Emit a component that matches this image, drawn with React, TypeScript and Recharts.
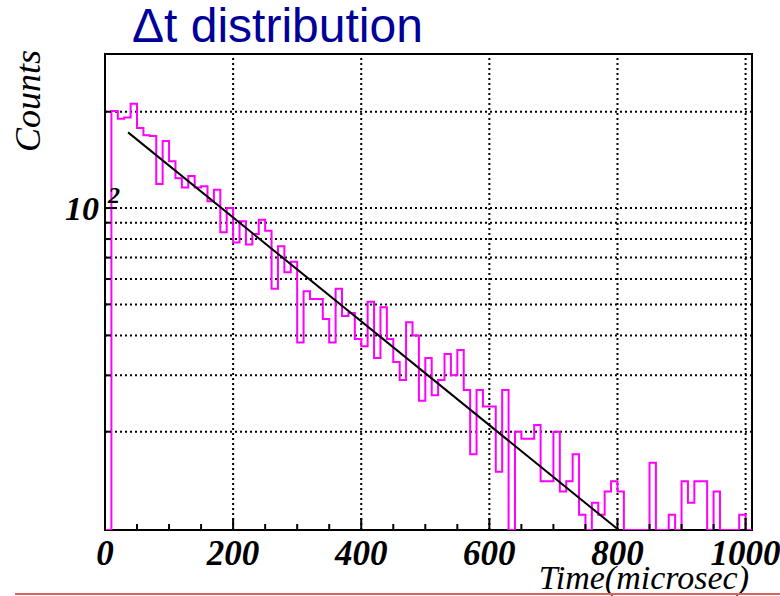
import React from "react";
import {
  ComposedChart, Line, XAxis, YAxis, CartesianGrid,
  ReferenceLine, ReferenceArea
} from "recharts";

// histogram: 10 microsec bins starting at 0, counts
const BIN_WIDTH = 10;
const COUNTS = [
  0, 201, 190, 192, 212, 178, 169, 168, 119, 162,
  140, 124, 116, 126, 116, 117, 105, 114, 84, 100,
  78, 91, 77, 83, 92, 85, 56, 76, 63, 68,
  38, 55, 52, 52, 45, 38, 56, 46, 47, 39,
  37, 51, 34, 49, 39, 33, 29, 44, 40, 25,
  34, 26, 29, 35, 30, 36, 27, 17, 27, 24,
  24, 15, 27, 0, 20, 19, 19, 21, 14, 14,
  20, 13, 14, 17, 11, 0, 12, 11, 13, 14,
  13, 0, 0, 0, 0, 16, 0, 0, 11, 0,
  14, 12, 14, 14, 0, 13, 0, 0, 0, 11,
  0,
];

// exponential fit, drawn as a straight segment on the log axis
const FIT_T = [36, 802];
const FIT_N = [172.4, 9.86];

const X_MAX = 1010;
const Y_MIN = 9.86;
const Y_MAX = 303;
const X_TICKS = [0, 50, 100, 150, 200, 250, 300, 350, 400, 450, 500, 550, 600, 650, 700, 750, 800, 850, 900, 950, 1000];
const X_GRID = [200, 400, 600, 800, 1000];
const Y_TICKS = [20, 30, 40, 50, 60, 70, 80, 90, 100, 200];

const hist = [
  ...COUNTS.map((c, i) => ({ t: i * BIN_WIDTH, n: Math.max(c, Y_MIN) })),
  { t: X_MAX, n: Math.max(COUNTS[COUNTS.length - 1], Y_MIN) },
];
const fit = FIT_T.map((t, i) => ({ t, n: FIT_N[i] }));

const SERIF = "'Liberation Serif', 'Times New Roman', serif";
const DOTS = "2 3";

const XTick = (props: any) => {
  const { x, y, payload } = props;
  const v = payload.value;
  const major = v % 200 === 0;
  return (
    <g>
      <line x1={x} x2={x} y1={y} y2={y - (major ? 12 : 6)} stroke="#000" strokeWidth={2} />
      {major && (
        <text x={x} y={y + 35} textAnchor="middle" fontFamily={SERIF}
          fontStyle="italic" fontWeight="bold" fontSize={35} fill="#000">
          {v}
        </text>
      )}
    </g>
  );
};

const YTick = (props: any) => {
  const { x, y, payload } = props;
  const v = payload.value;
  const exp = Math.log10(v);
  const major = Math.abs(exp - Math.round(exp)) < 1e-9;
  return (
    <g>
      <line x1={x} x2={x + (major ? 11 : 6)} y1={y} y2={y} stroke="#000" strokeWidth={2} />
      {major && (
        <g fontFamily={SERIF} fontStyle="italic" fontWeight="bold" fill="#000">
          <text x={x - 6} y={y + 12} textAnchor="end" fontSize={34}>10</text>
          <text x={x + 3} y={y - 5} textAnchor="start" fontSize={24}>{Math.round(exp)}</text>
        </g>
      )}
    </g>
  );
};

const XTitle = (props: any) => {
  const { x, y, width } = props.viewBox;
  return (
    <text x={x + width - 3} y={y + 59} textAnchor="end" fontFamily={SERIF}
      fontStyle="italic" fontSize={34} fill="#000">
      Time(microsec)
    </text>
  );
};

const YTitle = (props: any) => {
  const { y } = props.viewBox;
  return (
    <text x={40} y={y - 4} textAnchor="end" fontFamily={SERIF} fontStyle="italic"
      fontSize={36} fill="#000" transform={`rotate(-90 40 ${y - 4})`}>
      Counts
    </text>
  );
};

export default function App() {
  return (
    <div style={{ position: "absolute", left: 0, top: 0, width: 780, height: 596, background: "#fff" }}>
      <div style={{
        position: "absolute", left: 132, top: 2, fontFamily: "'Liberation Sans', Arial, sans-serif",
        fontSize: 48, lineHeight: "48px", color: "#000099", whiteSpace: "nowrap",
      }}>
        Δt distribution
      </div>
      <ComposedChart width={780} height={596} data={hist}
        margin={{ top: 54, right: 28, bottom: 0, left: 0 }}>
        <CartesianGrid vertical={false} stroke="#000" strokeWidth={2} strokeDasharray={DOTS} />
        {X_GRID.map((g) => (
          <ReferenceLine key={g} x={g} stroke="#000" strokeWidth={2} strokeDasharray={DOTS} />
        ))}
        <XAxis type="number" dataKey="t" domain={[0, X_MAX]} ticks={X_TICKS} interval={0}
          height={66} axisLine={false} tickLine={false} tickSize={0} tickMargin={0}
          tick={<XTick />} label={<XTitle />} allowDataOverflow />
        <YAxis type="number" scale="log" domain={[Y_MIN, Y_MAX]} ticks={Y_TICKS} interval={0}
          width={105} axisLine={false} tickLine={false} tickSize={0} tickMargin={0}
          tick={<YTick />} label={<YTitle />} allowDataOverflow />
        <Line data={hist} dataKey="n" type="stepAfter" stroke="#ff00ff" strokeWidth={2}
          dot={false} isAnimationActive={false} />
        <Line data={fit} dataKey="n" type="linear" stroke="#000" strokeWidth={2}
          dot={false} isAnimationActive={false} />
        <ReferenceArea x1={0} x2={X_MAX} y1={Y_MIN} y2={Y_MAX} fill="none" fillOpacity={0}
          stroke="#000" strokeWidth={2} ifOverflow="visible" />
      </ComposedChart>
      <div style={{ position: "absolute", left: 15, top: 593, width: 765, height: 2, background: "#e0605c" }} />
    </div>
  );
}
